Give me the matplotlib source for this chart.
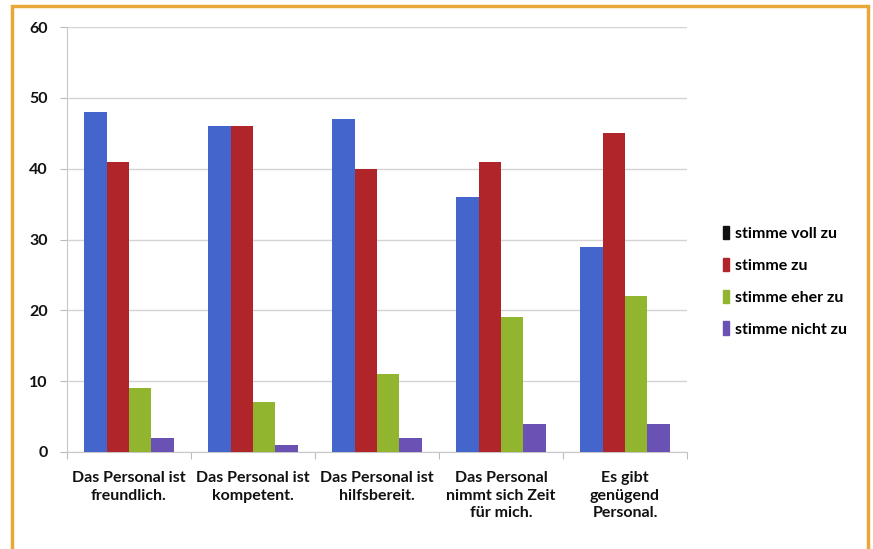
import numpy as np
import matplotlib
matplotlib.use("Agg")
import matplotlib.pyplot as plt
from matplotlib.patches import Rectangle

categories = [
    "Das Personal ist\nfreundlich.",
    "Das Personal ist\nkompetent.",
    "Das Personal ist\nhilfsbereit.",
    "Das Personal\nnimmt sich Zeit\nfür mich.",
    "Es gibt\ngenügend\nPersonal.",
]
series_names = ["stimme voll zu", "stimme zu", "stimme eher zu", "stimme nicht zu"]
voll_zu = [48, 46, 47, 36, 29]
zu = [41, 46, 40, 41, 45]
eher_zu = [9, 7, 11, 19, 22]
nicht_zu = [2, 1, 2, 4, 4]

bar_colors = ["#4466cc", "#b0252a", "#92b530", "#6a52b5"]
legend_colors = ["#111111", "#b0252a", "#92b530", "#6a52b5"]

plt.rcParams["font.family"] = ["Lato", "DejaVu Sans"]

fig = plt.figure(figsize=(8.73, 5.49), dpi=100)
ax = fig.add_axes([0.0767, 0.1767, 0.7103, 0.7741])

x = np.arange(len(categories))
w = 0.18
for i, vals in enumerate([voll_zu, zu, eher_zu, nicht_zu]):
    ax.bar(x + (i - 1.5) * w, vals, width=w, color=bar_colors[i], zorder=3)

ax.set_xlim(-0.5, len(categories) - 0.5)
ax.set_ylim(0, 60)
ax.set_yticks(range(0, 61, 10))
ax.yaxis.grid(True, color="#d4d4d4", linewidth=1.0, zorder=0)
ax.set_xticks(np.arange(-0.5, len(categories), 1.0), minor=False)
ax.set_xticklabels([])
ax.set_xticks(x, minor=True)
ax.set_xticklabels(categories, minor=True, fontsize=11.5, fontweight="bold",
                   linespacing=1.3, color="#111111")
ax.tick_params(axis="x", which="minor", length=0, pad=14)
ax.tick_params(axis="x", which="major", length=5, color="#bbbbbb", direction="out")
ax.tick_params(axis="y", length=5, color="#bbbbbb", labelsize=11.5, pad=9,
               labelcolor="#111111")
for lab in ax.get_yticklabels():
    lab.set_fontweight("bold")
for side in ["top", "right"]:
    ax.spines[side].set_visible(False)
for side in ["left", "bottom"]:
    ax.spines[side].set_color("#c8c8c8")

handles = [Rectangle((0, 0), 1, 1, color=c) for c in legend_colors]
fig.legend(handles, series_names, loc="upper left", bbox_to_anchor=(0.812, 0.615),
           frameon=False, handlelength=0.35, handleheight=0.9, handletextpad=0.4,
           labelspacing=1.05, prop={"size": 11.5, "weight": "bold"})

# orange frame around the whole chart
fig.patches.append(Rectangle((12 / 873, -0.02), 856 / 873, 1 - 6 / 549 + 0.02,
                             transform=fig.transFigure, fill=False,
                             edgecolor="#e8a838", linewidth=2.5))

fig.savefig("out.png", dpi=100)
